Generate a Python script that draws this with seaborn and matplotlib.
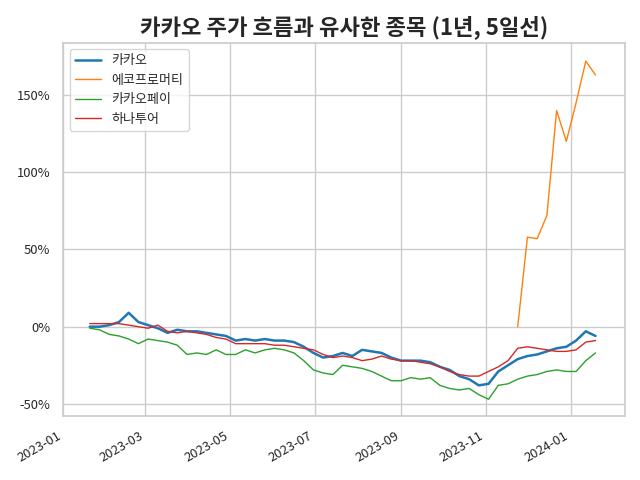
import pandas as pd
import numpy as np
import matplotlib.pyplot as plt
import matplotlib.dates as mdates
from matplotlib.ticker import FuncFormatter
import seaborn as sns

dates = pd.date_range('2023-01-20', '2024-01-19', freq='7D')

kakao = [0, 0, 1, 3, 9, 3, 1, -1, -4, -2, -3, -3, -4, -5, -6, -9, -8, -9, -8, -9,
         -9, -10, -13, -17, -20, -19, -17, -19, -15, -16, -17, -20, -22, -22, -22,
         -23, -26, -28, -32, -34, -38, -37, -29, -25, -21, -19, -18, -16, -14, -13,
         -9, -3, -6]
ecopro = [np.nan] * 44 + [0, 58, 57, 72, 140, 120, 145, 172, 163]
kakaopay = [-1, -2, -5, -6, -8, -11, -8, -9, -10, -12, -18, -17, -18, -15, -18, -18,
            -15, -17, -15, -14, -15, -17, -22, -28, -30, -31, -25, -26, -27, -29, -32,
            -35, -35, -33, -34, -33, -38, -40, -41, -40, -44, -47, -38, -37, -34, -32,
            -31, -29, -28, -29, -29, -22, -17]
hana = [2, 2, 2, 2, 1, 0, -1, 1, -3, -4, -3, -4, -5, -7, -8, -11, -11, -11, -11, -12,
        -12, -13, -14, -15, -18, -20, -19, -20, -22, -21, -19, -21, -22, -22, -23,
        -24, -26, -29, -31, -32, -32, -29, -26, -22, -14, -13, -14, -15, -16, -16,
        -15, -10, -9]

sns.set_theme(style='whitegrid', font_scale=0.85)
plt.rcParams['font.family'] = ['Noto Sans CJK KR', 'DejaVu Sans']
plt.rcParams['axes.unicode_minus'] = False

fig, ax = plt.subplots(figsize=(6.4, 4.8), dpi=100)
sns.lineplot(x=dates, y=kakao, ax=ax, label='카카오', color='#1f77b4', linewidth=1.8)
sns.lineplot(x=dates, y=ecopro, ax=ax, label='에코프로머티', color='#ff7f0e', linewidth=1)
sns.lineplot(x=dates, y=kakaopay, ax=ax, label='카카오페이', color='#2ca02c', linewidth=1)
sns.lineplot(x=dates, y=hana, ax=ax, label='하나투어', color='#d62728', linewidth=1)

ax.set_xlim(pd.Timestamp('2023-01-01'), pd.Timestamp('2024-02-09'))
ax.set_ylim(-58, 184)
ax.set_yticks([-50, 0, 50, 100, 150])
ax.yaxis.set_major_formatter(FuncFormatter(lambda v, p: f'{v:.0f}%'))
ax.xaxis.set_major_locator(mdates.MonthLocator(bymonth=[1, 3, 5, 7, 9, 11]))
ax.xaxis.set_major_formatter(mdates.DateFormatter('%Y-%m'))
ax.set_xlabel('')
ax.set_ylabel('')
for s in ax.spines.values():
    s.set_color('#cccccc')
ax.set_title('카카오 주가 흐름과 유사한 종목 (1년, 5일선)', fontsize=16, fontweight='bold')
ax.legend(loc='upper left', frameon=True)
fig.autofmt_xdate()
fig.tight_layout()
fig.savefig('out.png')
